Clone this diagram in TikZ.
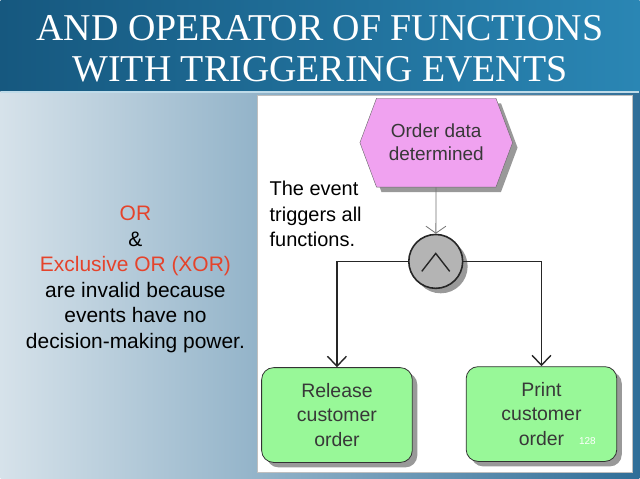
\documentclass[tikz,border=0pt]{standalone}
\usepackage{fontspec}
\setmainfont{Liberation Sans}
\newfontfamily\titlefont{Liberation Serif}
\usetikzlibrary{arrows.meta, positioning, shapes.symbols, shadows}
\definecolor{epcviolet}{HTML}{F0A2F0}
\definecolor{epcgreen}{HTML}{98F898}
\definecolor{epcgrey}{HTML}{B4B4B4}
\definecolor{epctext}{HTML}{383838}
\definecolor{slred}{HTML}{E5432B}
\definecolor{sldark}{HTML}{16587F}
\definecolor{slmid}{HTML}{2A86B4}
\definecolor{sllight}{HTML}{D6E2EA}
\definecolor{slblue}{HTML}{2F6E98}

\begin{document}
\begin{tikzpicture}[x=1pt, y=-1pt,
  shadowed/.style={drop shadow={shadow xshift=5pt, shadow yshift=-5pt, fill=black!40, opacity=1}},
  event/.style={signal, signal to=west and east, signal pointer angle=139, draw=black!60,
    fill=epcviolet, minimum width=153pt, minimum height=89pt, inner sep=0pt, align=center,
    text=epctext, font=\fontsize{19}{23}\selectfont, shadowed},
  func/.style={rectangle, rounded corners=12pt, draw=black!80, line width=0.8pt, fill=epcgreen,
    minimum width=151pt, minimum height=95pt, align=center, text=epctext,
    font=\fontsize{19.5}{24.5}\selectfont, shadowed},
  andop/.style={circle, draw=black!85, line width=1.6pt, fill=epcgrey, minimum size=54pt,
    inner sep=0pt, shadowed},
  flow/.style={-{Straight Barb[length=10pt, width=19pt, line width=1.4pt]}, line width=1.6pt, black!85},
  trig/.style={-{Straight Barb[length=7pt, width=20pt]}, line width=0.8pt, black!55},
  note/.style={align=left, font=\fontsize{20}{25.5}\selectfont},
]
  \shade[left color=sllight, right color=slblue] (0,0) rectangle (640,480);
  \shade[left color=sldark, right color=slmid] (0,0) rectangle (640,92);
  \draw[white!70!slmid, line width=1.5pt] (0,92) -- (640,92);
  \draw[black!25, fill=white] (257,95) rectangle (633,473);

  \node[align=center, text=white, font=\fontsize{38}{41}\selectfont\titlefont] (title) at (320,49)
    {AND OPERATOR OF FUNCTIONS\\WITH TRIGGERING EVENTS};

  \node[event] (order) at (436.5,143) {Order data\\determined};
  \node[andop] (and) at (436,262) {};
  \draw[line width=1.4pt, black!85] ([xshift=-14pt, yshift=-10pt]and.center)
    -- ([yshift=8pt]and.center) -- ([xshift=14pt, yshift=-10pt]and.center);
  \node[func] (release) at (337,416) {Release\\customer\\order};
  \node[func] (print) at (542,415) {Print\\customer\\order};

  \draw[trig] (order) -- (and);
  \draw[flow] (and.west) -| (release);
  \draw[flow] (and.east) -| (print);

  \node[note, anchor=north west] (hint) at (266,178) {The event\\triggers all\\functions.};
  \node[align=center, font=\fontsize{21}{25.6}\selectfont] (reason) at (135,280)
    {\textcolor{slred}{OR}\\\&\\\textcolor{slred}{Exclusive OR (XOR)}\\are invalid because\\events have no\\decision-making power.};
  \node[text=white, font=\fontsize{10}{12}\selectfont] (page) at (588,442) {128};
\end{tikzpicture}
\end{document}
